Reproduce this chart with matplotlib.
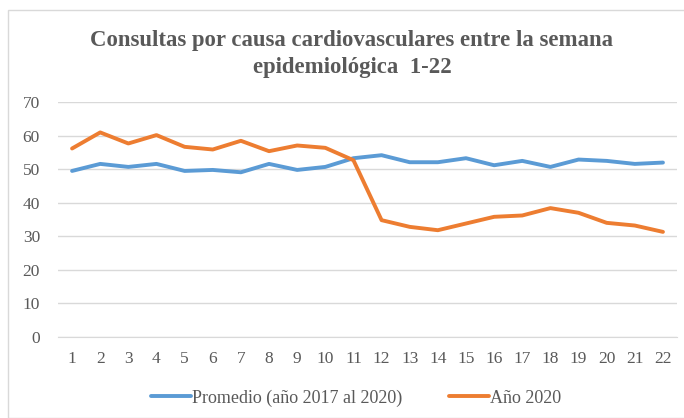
import numpy as np
import matplotlib.pyplot as plt
from matplotlib.patches import Rectangle

weeks = list(range(1, 23))
promedio = [49.5, 51.6, 50.7, 51.6, 49.5, 49.8, 49.1, 51.6, 49.8, 50.7, 53.3,
            54.2, 52.1, 52.1, 53.3, 51.2, 52.5, 50.7, 52.9, 52.5, 51.6, 52.0]
anio_2020 = [56.2, 61.0, 57.7, 60.2, 56.7, 55.9, 58.5, 55.4, 57.1, 56.4, 52.7,
             34.8, 32.8, 31.8, 33.8, 35.8, 36.2, 38.4, 37.0, 34.0, 33.2, 31.3]
y_ticks = [0, 10, 20, 30, 40, 50, 60, 70]

title = "Consultas por causa cardiovasculares entre la semana\nepidemiológica  1-22"
labels = ["Promedio (año 2017 al 2020)", "Año 2020"]

plt.rcParams['font.family'] = ['Liberation Serif', 'DejaVu Serif']
gray = '#595959'

fig = plt.figure(figsize=(6.84, 4.18), dpi=100)
ax = fig.add_axes([0.0848, 0.1945, 0.905, 0.5608])

# chart border
fig.patches.append(Rectangle((8 / 684, 0), 1, 1 - 10 / 418, transform=fig.transFigure,
                             fill=False, edgecolor='#D9D9D9', lw=1))

ax.plot(weeks, promedio, color='#5B9BD5', lw=2.8, label=labels[0], solid_capstyle='round')
ax.plot(weeks, anio_2020, color='#ED7D31', lw=2.8, label=labels[1], solid_capstyle='round')

ax.set_xlim(0.5, 22.5)
ax.set_ylim(0, 70)
ax.set_yticks(y_ticks)
ax.set_xticks(weeks)
ax.yaxis.grid(True, color='#D9D9D9', lw=1)
ax.set_axisbelow(True)
for s in ax.spines.values():
    s.set_visible(False)
ax.spines['bottom'].set_visible(True)
ax.spines['bottom'].set_color('#D9D9D9')
ax.tick_params(length=0, labelsize=12.5, colors=gray, pad=10)
ax.tick_params(axis='y', pad=13)

fig.text(352 / 684, 1 - 54 / 418, title, ha='center', va='center', fontsize=16.4,
         fontweight='bold', color=gray, linespacing=1.35)

fig.legend(loc='center', bbox_to_anchor=(356 / 684, 1 - 398 / 418), ncol=2, frameon=False,
           fontsize=13, labelcolor=gray, handlelength=2.2, handletextpad=0.05,
           columnspacing=2.6)

fig.savefig('out.png', dpi=100)
